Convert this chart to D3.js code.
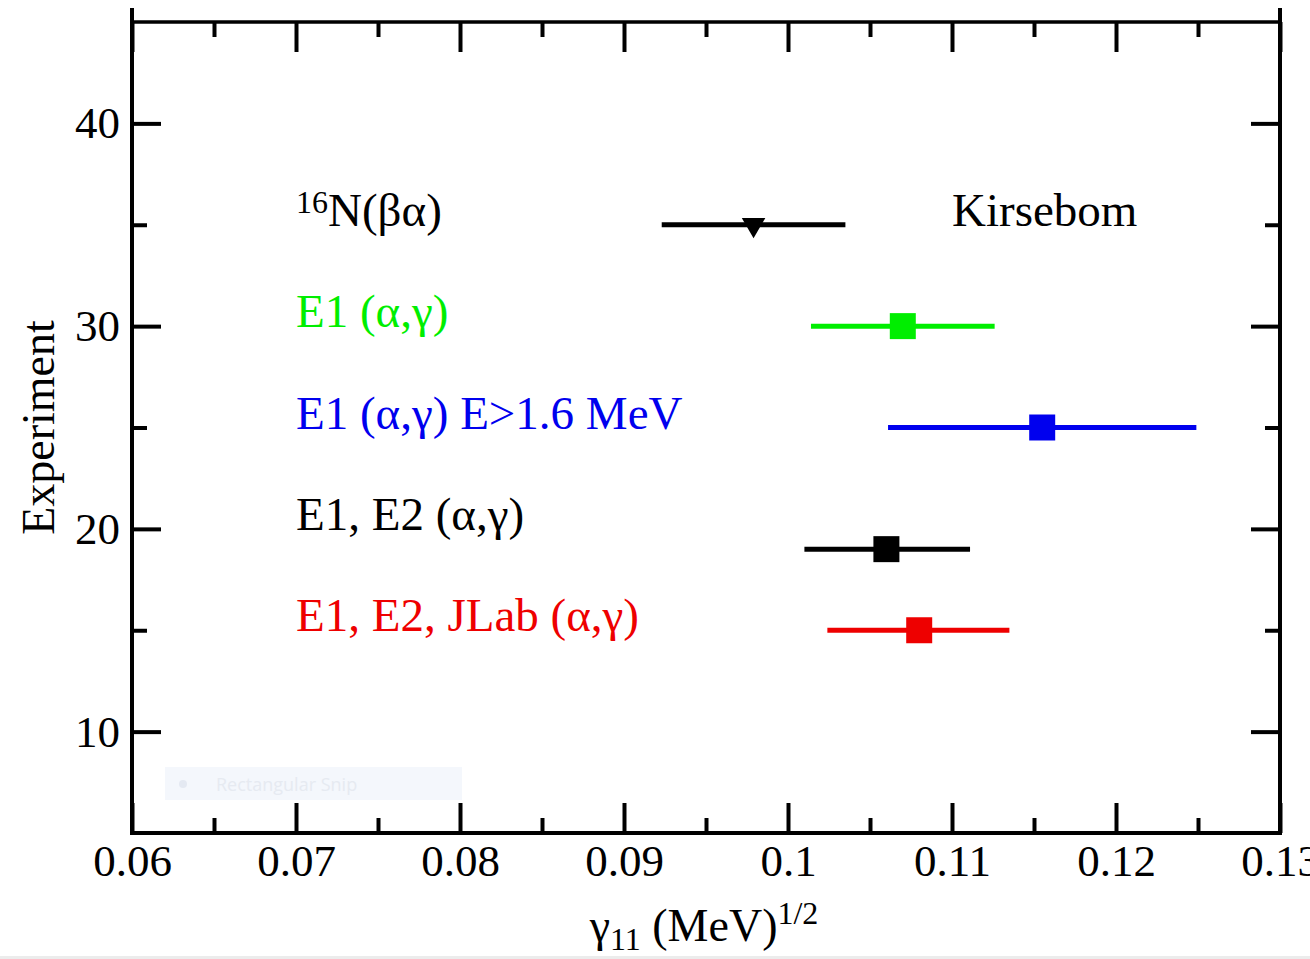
<!DOCTYPE html>
<html>
<head>
<meta charset="utf-8">
<script src="https://cdn.jsdelivr.net/npm/d3@7"></script>
<style>
  body { margin: 0; background: #fff; }
  svg { display: block; }
</style>
</head>
<body>
<div id="chart"></div>
<script>
// Values
var labels = ["16N(βα)", "E1 (α,γ)", "E1 (α,γ) E>1.6 MeV", "E1, E2 (α,γ)", "E1, E2, JLab (α,γ)"]
var labelY = [35, 30, 25, 20, 15]          // label baselines (data units)
var pointY = [35, 30, 25, 19, 15]          // experiment index
var gamma  = [0.0979, 0.1070, 0.1155, 0.1060, 0.1080]
var gammaLo = [0.0923, 0.1014, 0.1061, 0.1010, 0.1024]
var gammaHi = [0.1035, 0.1126, 0.1249, 0.1111, 0.1135]
var colors = ["#000000", "#00ee00", "#0000ee", "#000000", "#ee0000"]
var symbols = ["triangle", "square", "square", "square", "square"]

var xTicks = [0.06, 0.07, 0.08, 0.09, 0.1, 0.11, 0.12, 0.13]
var xMinor = [0.065, 0.075, 0.085, 0.095, 0.105, 0.115, 0.125]
var yTicks = [10, 20, 30, 40]
var yMinor = [15, 25, 35]

var width = 1310, height = 959
var margin = { left: 132, right: 30, top: 22, bottom: 126 }
var font = "'Liberation Serif', 'Times New Roman', serif"

var svg = d3.select("#chart").append("svg")
    .attr("width", width)
    .attr("height", height)

var x = d3.scaleLinear().domain([0.06, 0.13]).range([margin.left, width - margin.right])
var y = d3.scaleLinear().domain([5, 45]).range([height - margin.bottom, margin.top])

var x0 = x.range()[0], x1 = x.range()[1]
var y0 = y.range()[0], y1 = y.range()[1]

// faint snipping tool overlay that sits on the original picture
var snip = svg.append("g")
snip.append("rect").attr("x", 165).attr("y", 767).attr("width", 297).attr("height", 33).attr("fill", "#f4f7fc")
snip.append("circle").attr("cx", 183).attr("cy", 784).attr("r", 4).attr("fill", "#e4e9f2")
snip.append("text").attr("x", 216).attr("y", 791)
    .attr("font-family", "'Open Sans', sans-serif").attr("font-size", 18)
    .attr("fill", "#e6eaf1").text("Rectangular Snip")
svg.append("rect").attr("x", 0).attr("y", 956).attr("width", width).attr("height", 3).attr("fill", "#ececec")

// helper to style axis groups
function styleAxis(g) {
    g.select(".domain").remove()
    g.selectAll(".tick line").attr("stroke", "#000").attr("stroke-width", 4)
    g.attr("font-family", font).attr("font-size", 45)
}

// bottom axis, major + minor
svg.append("g").attr("transform", "translate(0," + y0 + ")")
    .call(d3.axisBottom(x).tickValues(xTicks).tickSize(-30).tickPadding(11).tickFormat(d => String(d)))
    .call(styleAxis)
svg.append("g").attr("transform", "translate(0," + y0 + ")")
    .call(d3.axisBottom(x).tickValues(xMinor).tickSize(-15).tickFormat(""))
    .call(styleAxis)
// top axis
svg.append("g").attr("transform", "translate(0," + y1 + ")")
    .call(d3.axisTop(x).tickValues(xTicks).tickSize(-30).tickFormat(""))
    .call(styleAxis)
svg.append("g").attr("transform", "translate(0," + y1 + ")")
    .call(d3.axisTop(x).tickValues(xMinor).tickSize(-15).tickFormat(""))
    .call(styleAxis)
// left axis
svg.append("g").attr("transform", "translate(" + x0 + ",0)")
    .call(d3.axisLeft(y).tickValues(yTicks).tickSize(-29).tickPadding(12).tickFormat(d => String(d)))
    .call(styleAxis)
svg.append("g").attr("transform", "translate(" + x0 + ",0)")
    .call(d3.axisLeft(y).tickValues(yMinor).tickSize(-15).tickFormat(""))
    .call(styleAxis)
// right axis
svg.append("g").attr("transform", "translate(" + x1 + ",0)")
    .call(d3.axisRight(y).tickValues(yTicks).tickSize(-29).tickFormat(""))
    .call(styleAxis)
svg.append("g").attr("transform", "translate(" + x1 + ",0)")
    .call(d3.axisRight(y).tickValues(yMinor).tickSize(-15).tickFormat(""))
    .call(styleAxis)

// frame (side lines stick up above the top border like the original)
var frame = svg.append("g").attr("stroke", "#000").attr("fill", "none")
frame.append("line").attr("x1", x0).attr("x2", x1).attr("y1", y1).attr("y2", y1).attr("stroke-width", 3.5)
frame.append("line").attr("x1", x0).attr("x2", x1).attr("y1", y0).attr("y2", y0).attr("stroke-width", 4)
frame.append("line").attr("x1", x0).attr("x2", x0).attr("y1", 8).attr("y2", y0 + 2).attr("stroke-width", 4)
frame.append("line").attr("x1", x1).attr("x2", x1).attr("y1", 8).attr("y2", y0 + 2).attr("stroke-width", 4)

// error bars
var rows = d3.range(labels.length)
svg.append("g").selectAll("line")
    .data(rows).enter().append("line")
    .attr("x1", i => x(gammaLo[i]))
    .attr("x2", i => x(gammaHi[i]))
    .attr("y1", i => y(pointY[i]))
    .attr("y2", i => y(pointY[i]))
    .attr("stroke", i => colors[i])
    .attr("stroke-width", 5)

// markers
var sq = 26
svg.append("g").selectAll("path")
    .data(rows).enter().append("path")
    .attr("d", i => symbols[i] === "triangle"
        ? d3.symbol(d3.symbolTriangle, 240)()
        : d3.symbol(d3.symbolSquare, sq * sq)())
    .attr("transform", i => "translate(" + x(gamma[i]) + "," + y(pointY[i]) + ")" +
        (symbols[i] === "triangle" ? " rotate(180)" : ""))
    .attr("fill", i => colors[i])

// labels
var lab = svg.append("g").attr("font-family", font).attr("font-size", 47)
rows.forEach(function (i) {
    var t = lab.append("text")
        .attr("x", x(0.07))
        .attr("y", y(labelY[i]) + 1)
        .attr("fill", colors[i])
    if (i === 0) {
        t.append("tspan").attr("font-size", 32).attr("dy", -13).text("16")
        t.append("tspan").attr("dy", 13).text("N(βα)")
    } else {
        t.text(labels[i])
    }
})
lab.append("text").attr("x", x(0.11)).attr("y", y(35) + 1).attr("fill", "#000").text("Kirsebom")

// axis titles
var xt = svg.append("text")
    .attr("x", (x0 + x1) / 2 - 2)
    .attr("y", 941)
    .attr("text-anchor", "middle")
    .attr("font-family", font)
    .attr("font-size", 46)
xt.append("tspan").text("γ")
xt.append("tspan").attr("font-size", 32).attr("dy", 9).text("11")
xt.append("tspan").attr("dy", -9).text(" (MeV)")
xt.append("tspan").attr("font-size", 32).attr("dy", -17).text("1/2")

svg.append("text")
    .attr("transform", "translate(54," + ((y0 + y1) / 2) + ") rotate(-90)")
    .attr("text-anchor", "middle")
    .attr("font-family", font)
    .attr("font-size", 46)
    .text("Experiment")
</script>
</body>
</html>
